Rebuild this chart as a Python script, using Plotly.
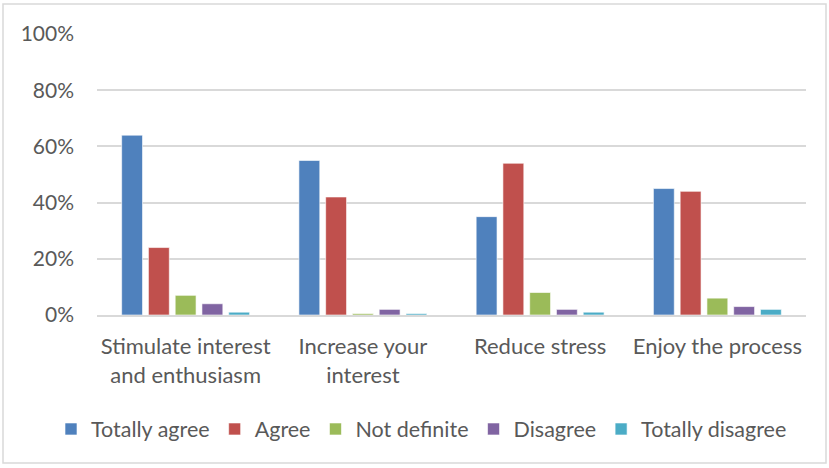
import plotly.graph_objects as go

categories = ["Stimulate interest<br>and enthusiasm", "Increase your<br>interest", "Reduce stress", "Enjoy the process"]
series_names = ["Totally agree", "Agree", "Not definite", "Disagree", "Totally disagree"]
totally_agree = [64, 55, 35, 45]
agree = [24, 42, 54, 44]
not_definite = [7, 0.5, 8, 6]
disagree = [4, 2, 2, 3]
totally_disagree = [1, 0.5, 1, 2]
colors = ["#4F81BD", "#C0504D", "#9BBB59", "#8064A2", "#4BACC6"]
y_ticks = [0, 20, 40, 60, 80, 100]

values = [totally_agree, agree, not_definite, disagree, totally_disagree]

fig = go.Figure()
for name, vals, c in zip(series_names, values, colors):
    fig.add_trace(go.Bar(x=categories, y=vals, name=name, marker=dict(color=c, line=dict(color="rgba(255,255,255,0.6)", width=1))))

W, H = 829, 468
ml, mr, mt, mb = 97, 23, 34, 153
pw, ph = W - ml - mr, H - mt - mb

fig.update_layout(
    width=W, height=H,
    margin=dict(l=ml, r=mr, t=mt, b=mb, autoexpand=False),
    paper_bgcolor="white", plot_bgcolor="white",
    barmode="group", bargap=0.245, bargroupgap=0.22,
    font=dict(family="Lato, Open Sans, sans-serif", size=21, color="#595959"),
    legend=dict(orientation="h", xref="paper", yref="paper", x=(51 - ml) / pw, xanchor="left",
                y=-(429 - (H - mb)) / ph, yanchor="middle",
                font=dict(size=21.5, color="#595959"), traceorder="normal", itemwidth=30,
                bgcolor="rgba(0,0,0,0)"),
    xaxis=dict(showgrid=False, showline=True, linecolor="#D9D9D9", linewidth=1.5, ticks="",
               tickfont=dict(size=22, color="#595959"), ticklabelstandoff=11),
    yaxis=dict(range=[0, 100], tickvals=y_ticks, ticktext=[f"{v}%" for v in y_ticks],
               showgrid=True, gridcolor="#D9D9D9", gridwidth=1.5, zeroline=False, showline=False,
               ticks="", tickfont=dict(size=21, color="#595959"), ticklabelstandoff=22),
    showlegend=True,
)
fig.add_shape(type="rect", xref="paper", yref="paper",
              x0=(3 - ml) / pw, x1=(826 - ml) / pw,
              y0=-(463 - (H - mb)) / ph, y1=1 + (mt - 4) / ph,
              line=dict(color="#D9D9D9", width=1.5), layer="below")
fig.write_html("out.html")
